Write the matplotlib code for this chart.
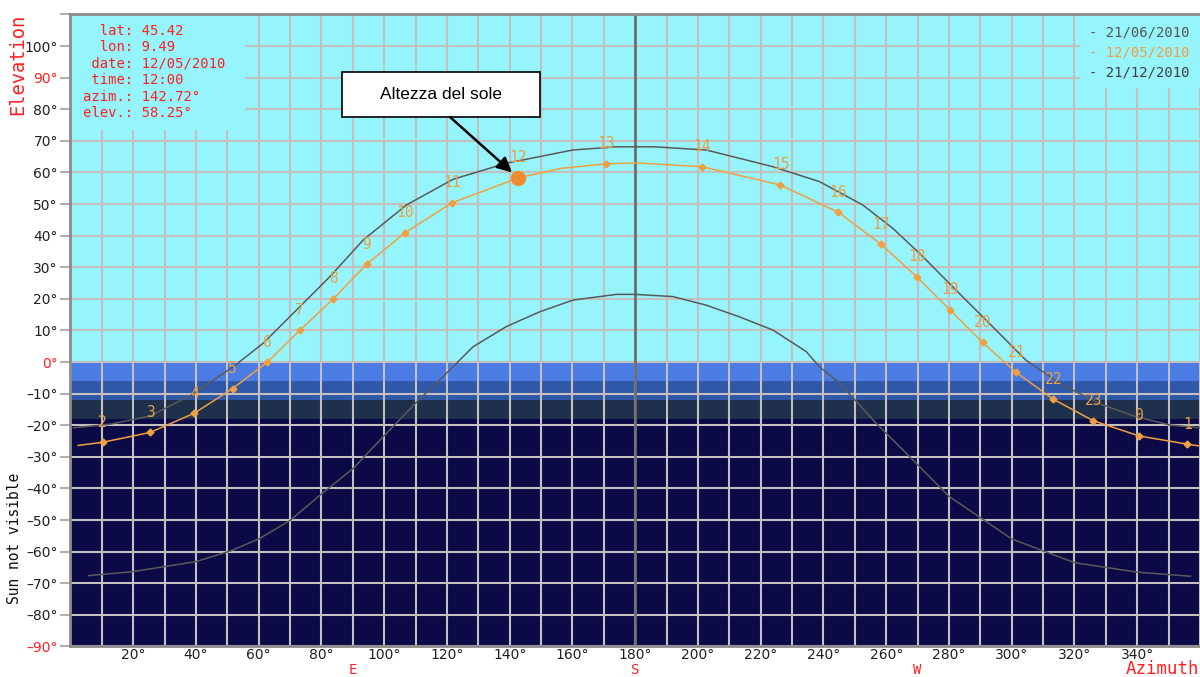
import matplotlib
matplotlib.use("Agg")
import matplotlib.pyplot as plt
from matplotlib.patches import Rectangle

# ---------------- data ----------------
summer_az = [1, 12.6, 25.4, 38.6, 51.9, 61.4, 72.1, 82.7, 93.3, 107.1, 117.7, 121.9, 138.9,
             160.2, 174, 180, 186, 202.6, 223.9, 238.7, 252.5, 262.1, 270.6, 278, 285.4,
             295, 304.5, 316.2, 329, 339.6, 350.2, 359.7]
summer_el = [-20.8, -19.7, -17.1, -10.4, -1.5, 5.9, 16.5, 27, 38.6, 49.7, 55.5, 57.8, 62.9,
             67.1, 68.1, 68.1, 68.1, 67.1, 61.8, 57.1, 49.7, 42.3, 34.4, 27, 19.6,
             10.1, 0.6, -7.3, -13.6, -17.3, -19.9, -20.8]

winter_az = [5.8, 19.4, 39.9, 51.3, 60.4, 70.2, 80.2, 90.2, 100.2, 110.4, 117.7, 128.3, 138.9,
             149.6, 160.2, 174, 180, 192, 202.6, 213.2, 223.9, 234.5, 238.7, 245.1, 251.5,
             256.8, 265.3, 280, 300, 320, 340, 357]
winter_el = [-67.6, -66.4, -63.2, -59.7, -55.8, -50, -41.6, -33.6, -23.1, -12.6, -5.7, 4.8, 11.2,
             15.9, 19.6, 21.4, 21.4, 20.7, 18, 14.3, 10.1, 3.3, -1.5, -6.7, -13.6,
             -19.4, -27.8, -42.5, -56, -63.5, -66.5, -67.8]

# 12/05/2010 hourly positions
hours = [2, 3, 4, 5, 6, 7, 8, 9, 10, 11, 12, 13, 14, 15, 16, 17, 18, 19, 20, 21, 22, 23, 0, 1]
may_az = [10.3, 25.4, 39.5, 51.7, 62.7, 73.1, 83.7, 94.4, 106.6, 121.7, 142.72, 170.6, 201.4,
          226.3, 244.7, 258.4, 269.7, 280.3, 290.7, 301.4, 313.3, 326.0, 340.6, 356.0]
may_el = [-25.4, -22.3, -16.2, -8.4, -0.1, 10.0, 19.9, 30.9, 40.9, 50.4, 58.25, 62.7, 61.8,
          56.0, 47.4, 37.2, 27.0, 16.5, 6.2, -3.3, -11.8, -18.6, -23.4, -26.0]
# extra points on the 12/05 path between hour marks
may_line_az = [2.5] + may_az[:11] + [156.5] + [may_az[11]] + [180] + may_az[12:] + [360]
may_line_el = [-26.4] + may_el[:11] + [61.3] + [may_el[11]] + [63.0] + may_el[12:] + [-26.6]

cur_az, cur_el = 142.72, 58.25

info_lines = ["  lat: 45.42", "  lon: 9.49", " date: 12/05/2010", " time: 12:00",
              "azim.: 142.72°", "elev.: 58.25°"]
legend_labels = ["21/06/2010", "12/05/2010", "21/12/2010"]
y_ticks = list(range(-90, 101, 10))
x_label_ticks = list(range(20, 341, 20))
cardinals = [(90, "E"), (180, "S"), (270, "W")]

# ---------------- style ----------------
C_SKY = "#96F4FC"
C_B1 = "#4A7CE4"
C_B2 = "#3058A8"
C_B3 = "#1E304C"
C_NIGHT = "#0C0A46"
C_GRID = "#C4C0C0"
C_GRAY = "#5A5A5A"
C_ORANGE = "#F0A040"
C_RED = "#FF2020"
MONO = "DejaVu Sans Mono"

W, H = 1200, 677
fig = plt.figure(figsize=(W / 100, H / 100), dpi=100)
L, T, B = 70.4, 14.4, 646.4
ax = fig.add_axes([L / W, 1 - B / H, 1 - L / W, (B - T) / H])
ax.set_xlim(0, 360)
ax.set_ylim(-90, 110)

# background bands
ax.axhspan(0, 110, color=C_SKY, zorder=0.1, lw=0)
ax.axhspan(-6, 0, color=C_B1, zorder=0.1, lw=0)
ax.axhspan(-12, -6, color=C_B2, zorder=0.1, lw=0)
ax.axhspan(-18, -12, color=C_B3, zorder=0.1, lw=0)
ax.axhspan(-90, -18, color=C_NIGHT, zorder=0.1, lw=0)

# ticks & grid
ax.set_xticks(list(range(0, 361, 10)))
ax.set_xticklabels([f"{v}°" if v in x_label_ticks else "" for v in range(0, 361, 10)],
                   fontsize=10, color="#202020")
ax.set_xticks(list(range(10, 360, 20)), minor=True)
ax.tick_params(axis="x", which="major", length=0, pad=1.5)
ax.tick_params(axis="x", which="minor", length=6, width=1.5, color="#B0B0B0", direction="out")
ax.set_yticks(y_ticks + [110])
ylabels = [f"{v}°".replace("-", "\u2013") for v in y_ticks]
ax.set_yticklabels(ylabels + [""], fontsize=10)
for lab, v in zip(ax.get_yticklabels(), y_ticks + [110]):
    lab.set_color(C_RED if v in (90, 0, -90) else "#202020")
ax.tick_params(axis="y", which="major", length=7, width=1.5, color="#B0B0B0", pad=2)
ax.set_axisbelow(True)
ax.grid(True, which="major", color=C_GRID, lw=1.5, zorder=0.5)

sec = ax.secondary_xaxis("top")
sec.set_xticks(list(range(10, 360, 10)))
sec.set_xticklabels([])
sec.tick_params(length=5, width=1.5, color="#B0B0B0", direction="in")
sec.spines["top"].set_visible(False)

for s in ["left", "top", "bottom"]:
    ax.spines[s].set_color("#8C8C8C")
    ax.spines[s].set_linewidth(2)
ax.spines["right"].set_visible(False)

# info and legend boxes (cover grid)
ax.add_patch(Rectangle((0, (B - 130) / (B - T)), (245 - L) / (W - L), 1,
                       transform=ax.transAxes, color=C_SKY, zorder=0.8, lw=0))
ax.add_patch(Rectangle(((1080 - L) / (W - L), (B - 88) / (B - T)), 1, 1,
                       transform=ax.transAxes, color=C_SKY, zorder=0.8, lw=0))

# south line
ax.axvline(180, color="#6E6E6E", lw=2, zorder=1.5)

# curves
ax.plot(summer_az, summer_el, color=C_GRAY, lw=1.1, zorder=2)
ax.plot(winter_az, winter_el, color=C_GRAY, lw=1.1, zorder=2)
ax.plot(may_line_az, may_line_el, color=C_ORANGE, lw=1.1, zorder=3)
ax.plot(may_az, may_el, ls="none", marker="D", ms=3.5, color=C_ORANGE, zorder=3)
for h, a, e in zip(hours, may_az, may_el):
    ax.annotate(str(h), (a, e), xytext=(0, 14.5), textcoords="offset points",
                ha="center", va="center", fontsize=10.5, family=MONO, color="#E8A048", zorder=4)
ax.plot([cur_az], [cur_el], ls="none", marker="o", ms=10, color="#F08C30", zorder=5)

# annotation box
bx0, bx1 = (342 - L) / 3.138, (540 - L) / 3.138
by0, by1 = (362 - 117) / 3.16, (362 - 72) / 3.16
ax.add_patch(Rectangle((bx0, by0), bx1 - bx0, by1 - by0, facecolor="white",
                       edgecolor="black", lw=1.2, zorder=6))
ax.text((bx0 + bx1) / 2, (by0 + by1) / 2, "Altezza del sole", ha="center", va="center",
        fontsize=12.5, family="Liberation Sans", color="black", zorder=7)
ax.annotate("", xy=(cur_az, cur_el), xytext=((450 - L) / 3.138, by0),
            arrowprops=dict(arrowstyle="-|>", color="black", lw=1.8, mutation_scale=22,
                            shrinkA=0, shrinkB=6), zorder=7)

# cardinal labels and axis labels
for a, s in cardinals:
    ax.text(a, -(670 - B) / (B - T), s, transform=ax.get_xaxis_transform(), ha="center",
            va="center", fontsize=10, family=MONO, color=C_RED)
fig.text(1199 / W, 1 - 669 / H, "Azimuth", ha="right", va="center", fontsize=12.5,
         family=MONO, color=C_RED)
fig.text(18 / W, 1 - 64 / H, "Elevation", ha="center", va="center", rotation=90,
         fontsize=13.5, family=MONO, color=C_RED)
fig.text(15 / W, 1 - 538 / H, "Sun not visible", ha="center", va="center", rotation=90,
         fontsize=10.5, family=MONO, color="#101010")

# info text
fig.text(83 / W, 1 - 24 / H, "\n".join(info_lines), ha="left", va="top", fontsize=10,
         family=MONO, color=C_RED, linespacing=1.22)

# legend
leg_colors = ["#555555", C_ORANGE, "#404040"]
for i, (lab, c) in enumerate(zip(legend_labels, leg_colors)):
    fig.text(1089 / W, 1 - (33 + 20 * i) / H, "- " + lab, ha="left", va="center",
             fontsize=10, family=MONO, color=c)

fig.savefig("out.png", dpi=100)
